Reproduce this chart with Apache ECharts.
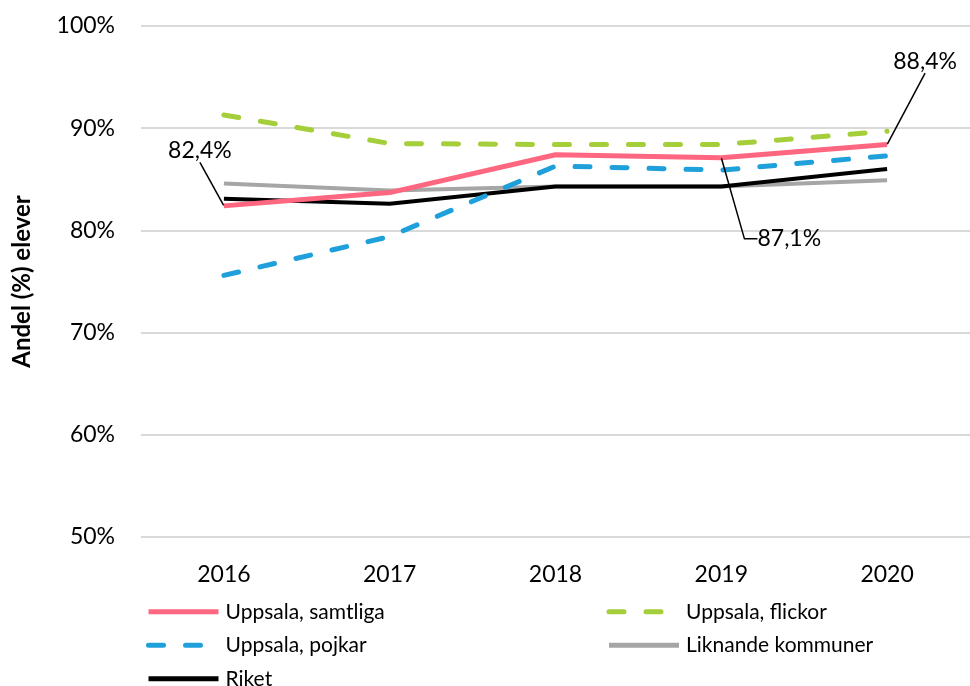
<!DOCTYPE html>
<html>
<head>
<meta charset="utf-8">
<script src="https://cdn.jsdelivr.net/npm/echarts@6/dist/echarts.min.js"></script>
<style>html,body{margin:0;padding:0;background:#fff;}#c{width:970px;height:686px;}</style>
</head>
<body>
<div id="c"></div>
<script>
const years = ['2016', '2017', '2018', '2019', '2020'];
const yTicks = [50, 60, 70, 80, 90, 100];
const samtliga = [82.4, 83.7, 87.4, 87.1, 88.4];
const flickor = [91.3, 88.5, 88.4, 88.4, 89.7];
const pojkar = [75.6, 79.4, 86.3, 85.9, 87.3];
const liknande = [84.6, 83.9, 84.3, 84.3, 84.9];
const riket = [83.1, 82.6, 84.3, 84.3, 86.0];
const labelledIdx = [0, 3, 4];

const FONT = 'Lato, "Noto Sans", sans-serif';
const chart = echarts.init(document.getElementById('c'));

function lineSeries(name, data, color, dashed, width, z) {
  return {
    name: name, type: 'line', data: data, symbol: 'none', z: z,
    lineStyle: { color: color, width: width, type: dashed ? [15, 22] : 'solid', cap: dashed ? 'round' : 'butt' },
    itemStyle: { color: color },
    emphasis: { disabled: true }, animation: false
  };
}

const sSamt = lineSeries('Uppsala, samtliga', samtliga, '#FF6680', false, 5, 6);
sSamt.symbol = 'circle';
sSamt.symbolSize = 1;
sSamt.showSymbol = true;
sSamt.label = {
  show: false, position: 'top', fontSize: 23, color: '#000', fontFamily: FONT,
  formatter: p => p.value.toFixed(1).replace('.', ',') + '%'
};
sSamt.labelLine = { show: false, length2: 0, lineStyle: { color: '#000', width: 1.5 } };
sSamt.data = samtliga.map((v, i) => labelledIdx.includes(i) ? {
  value: v,
  label: { show: true, fontSize: 23 },
  labelLine: { show: true, length2: i === 3 ? 13 : 0, minTurnAngle: 0 }
} : v);
sSamt.labelLayout = function (p) {
  if (p.dataIndex === 0) return { dx: -24, dy: -38, fontSize: 23 };
  if (p.dataIndex === 3) return { dx: 68, dy: 98, fontSize: 23 };
  if (p.dataIndex === 4) return { dx: 38, dy: -66, fontSize: 23 };
  return {};
};

const option = {
  backgroundColor: '#fff',
  textStyle: { fontFamily: FONT },
  grid: { left: 141, top: 26, width: 838, height: 511, containLabel: false },
  xAxis: {
    type: 'category', data: years, boundaryGap: true,
    axisLine: { show: false }, axisTick: { show: false },
    axisLabel: { fontSize: 23, color: '#000', margin: 26, fontFamily: FONT }
  },
  yAxis: {
    type: 'value', min: yTicks[0], max: yTicks[yTicks.length - 1], interval: 10,
    name: 'Andel (%) elever', nameLocation: 'middle', nameGap: 107,
    nameTextStyle: { fontSize: 24, fontWeight: 'bold', color: '#000', fontFamily: FONT },
    axisLine: { show: false }, axisTick: { show: false },
    axisLabel: { fontSize: 23, color: '#000', margin: 26, formatter: '{value}%', fontFamily: FONT },
    splitLine: { lineStyle: { color: '#D9D9D9', width: 2 } }
  },
  legend: {
    left: 141, top: 590, width: 930, orient: 'horizontal',
    itemWidth: 70, itemHeight: 10, itemGap: 0,
    itemStyle: { opacity: 0 },
    lineStyle: { width: 5 },
    textStyle: { fontSize: 21, color: '#000', width: 381, lineHeight: 33.5, padding: [0, 0, 0, 2], fontFamily: FONT },
    data: ['Uppsala, samtliga', 'Uppsala, flickor', 'Uppsala, pojkar', 'Liknande kommuner', 'Riket']
  },
  series: [
    lineSeries('Liknande kommuner', liknande, '#A6A6A6', false, 4, 2),
    lineSeries('Riket', riket, '#000000', false, 4, 3),
    lineSeries('Uppsala, pojkar', pojkar, '#1FA0DB', true, 5, 4),
    lineSeries('Uppsala, flickor', flickor, '#A4CE3A', true, 5, 5),
    sSamt
  ]
};
chart.setOption(option);
</script>
</body>
</html>
